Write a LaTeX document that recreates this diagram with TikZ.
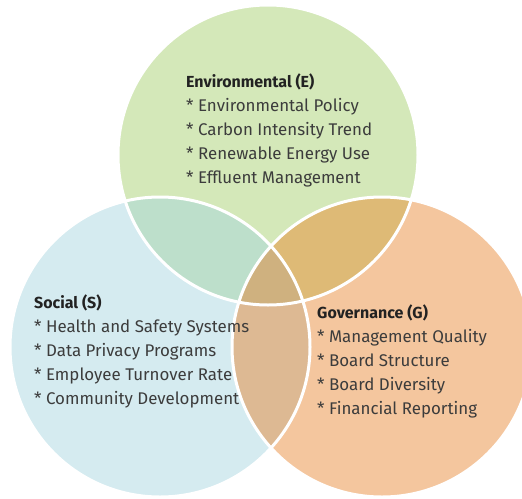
\documentclass[tikz,border=0pt]{standalone}
\usepackage{fontspec}
\setmainfont{Fira Sans}
\definecolor{envgreen}{HTML}{D4E8B9}
\definecolor{socblue}{HTML}{D5EBF0}
\definecolor{govorange}{HTML}{F4C69E}
\definecolor{envsoc}{HTML}{BDDFCB}
\definecolor{envgov}{HTML}{DEBA76}
\definecolor{socgov}{HTML}{DDB993}
\definecolor{allthree}{HTML}{CFB17F}
\definecolor{headgray}{HTML}{222222}
\definecolor{itemgray}{HTML}{3C3C3C}
\tikzset{every node/.style={anchor=base west,inner sep=0pt,font=\fontsize{16.9}{20}\selectfont}}
\tikzset{head/.style={text=headgray,font=\fontsize{16}{20}\selectfont\bfseries}}
\tikzset{item/.style={text=itemgray}}
\tikzset{ring/.style={draw=white,line width=3pt}}

\begin{document}
\begin{tikzpicture}[x=1pt,y=-1pt]
\clip (0,0) rectangle (522,498);
\coordinate (E) at (268,155);
\coordinate (S) at (160,347);
\coordinate (G) at (382,347);

\fill[envgreen] (E) circle[radius=150pt];
\fill[socblue] (S) circle[radius=150pt];
\fill[govorange] (G) circle[radius=150pt];
\begin{scope}
\clip (E) circle[radius=150pt];
\fill[envsoc] (S) circle[radius=150pt];
\fill[envgov] (G) circle[radius=150pt];
\end{scope}
\begin{scope}
\clip (S) circle[radius=150pt];
\fill[socgov] (G) circle[radius=150pt];
\clip (E) circle[radius=150pt];
\fill[allthree] (G) circle[radius=150pt];
\end{scope}
\draw[ring] (E) circle[radius=150pt];
\draw[ring] (S) circle[radius=150pt];
\draw[ring] (G) circle[radius=150pt];

\node[head](envhead) at (186,87) {Environmental (E)};
\node[item](policy) at (186,111) {* Environmental Policy};
\node[item](carbon) at (186,135) {* Carbon Intensity Trend};
\node[item](renewable) at (186,159) {* Renewable Energy Use};
\node[item](effluent) at (186,183) {* Effluent Management};

\node[head](sochead) at (34,308) {Social (S)};
\node[item](health) at (34,332) {* Health and Safety Systems};
\node[item](privacy) at (34,356) {* Data Privacy Programs};
\node[item](turnover) at (34,380) {* Employee Turnover Rate};
\node[item](community) at (34,404) {* Community Development};

\node[head](govhead) at (317,318) {Governance (G)};
\node[item](management) at (317,342) {* Management Quality};
\node[item](structure) at (317,366) {* Board Structure};
\node[item](diversity) at (317,390) {* Board Diversity};
\node[item](reporting) at (317,414) {* Financial Reporting};
\end{tikzpicture}
\end{document}
